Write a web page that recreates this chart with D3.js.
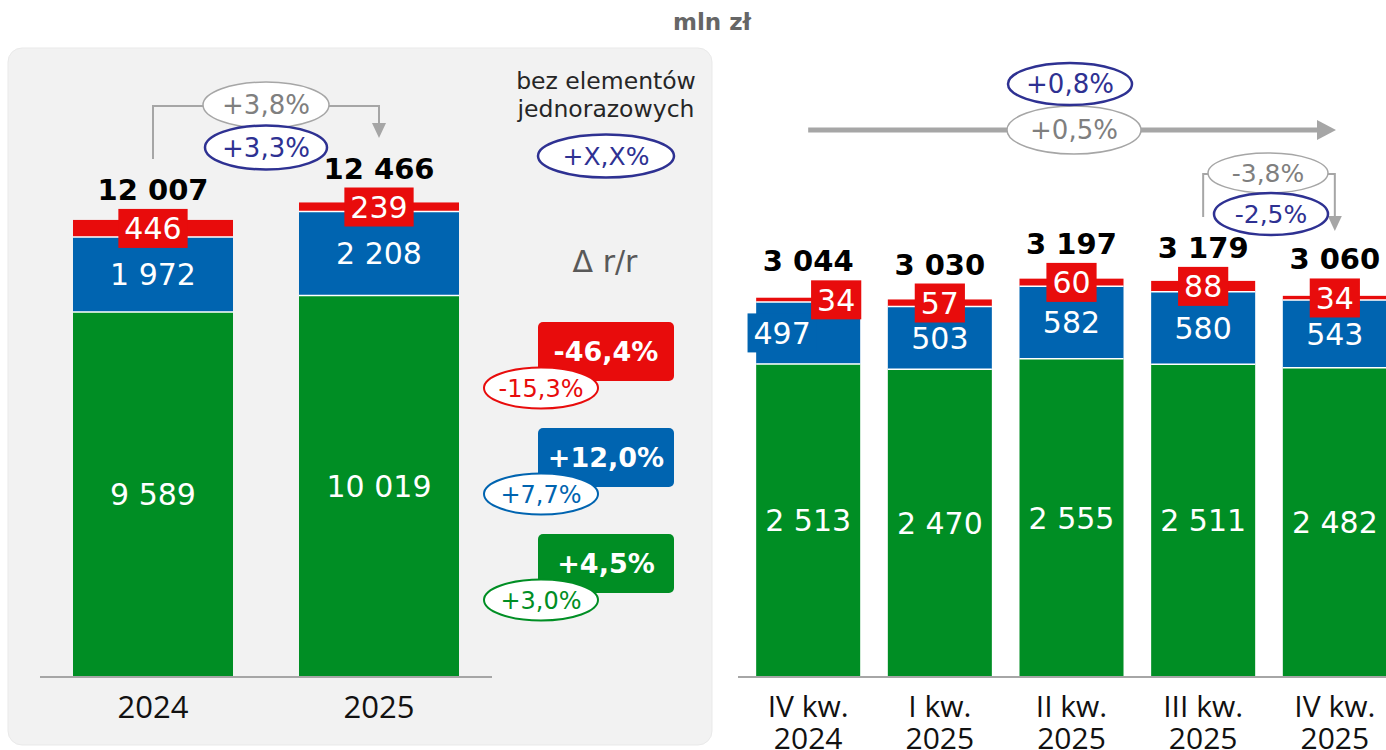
<!DOCTYPE html>
<html>
<head>
<meta charset="utf-8">
<script src="https://cdn.jsdelivr.net/npm/d3@7"></script>
<style>
  html, body { margin: 0; padding: 0; background: #ffffff; }
  svg { display: block; }
</style>
</head>
<body>
<svg id="chart" width="1386" height="750"></svg>
<script>
// ---- annual data (mln zł) ----
const years = ["2024", "2025"];
const yearCore = [9589, 10019];      // green
const yearMid = [1972, 2208];        // blue
const yearOther = [446, 239];        // red
const yearTotals = [12007, 12466];

// ---- quarterly data (mln zł) ----
const quarters = ["IV kw. 2024", "I kw. 2025", "II kw. 2025", "III kw. 2025", "IV kw. 2025"];
const quarterCore = [2513, 2470, 2555, 2511, 2482];
const quarterMid = [497, 503, 582, 580, 543];
const quarterOther = [34, 57, 60, 88, 34];
const quarterTotals = [3044, 3030, 3197, 3179, 3060];

// ---- y/y changes ----
const yearChange = "+3,8%";
const yearChangeAdj = "+3,3%";
const segmentChange = ["-46,4%", "+12,0%", "+4,5%"];      // red, blue, green
const segmentChangeAdj = ["-15,3%", "+7,7%", "+3,0%"];
const spanChange = "+0,5%";        // IV kw. 2024 -> IV kw. 2025
const spanChangeAdj = "+0,8%";
const lastQChange = "-3,8%";       // III kw. 2025 -> IV kw. 2025
const lastQChangeAdj = "-2,5%";
const adjLegend = "+X,X%";

const C = {
  red: "#e80c0c", blue: "#0064b0", green: "#008e24",
  navy: "#2e3192", grayLine: "#a6a6a6", grayText: "#7f7f7f", panel: "#f2f2f2"
};
const FONT = "'DejaVu Sans', sans-serif";
const AXISFONT = "'Open Sans', sans-serif";

const fmt = d3.formatLocale({ decimal: ",", thousands: " ", grouping: [3], currency: ["", " zł"] }).format(",d");

const svg = d3.select("#chart");

// panel behind the annual bars
svg.append("rect").attr("x", 8).attr("y", 48).attr("width", 704).attr("height", 697)
  .attr("rx", 14).attr("fill", C.panel).attr("stroke", "#e9e9e9");

svg.append("text").attr("x", 712).attr("y", 30).attr("text-anchor", "middle")
  .attr("font-family", FONT).attr("font-weight", "bold").attr("font-size", 23)
  .attr("fill", "#666666").text("mln zł");

// ---- scales ----
const xL = d3.scaleBand().domain(years).range([40, 492]).paddingInner(0.292).paddingOuter(0.146);
const yL = d3.scaleLinear().domain([0, 15000]).range([677, 106]);
const xR = d3.scaleBand().domain(quarters).range([743, 1400]).paddingInner(0.21).paddingOuter(0.1);
const yR = d3.scaleLinear().domain([0, 4000]).range([677, 178.6]);

function stackRows(cats, g, b, r) {
  return cats.map((c, i) => ({ cat: c, core: g[i], mid: b[i], other: r[i] }));
}
const stackGen = d3.stack().keys(["core", "mid", "other"]);
const keyColor = { core: C.green, mid: C.blue, other: C.red };

function drawBars(rows, totals, x, y, labelShift) {
  const series = stackGen(rows);
  const g = svg.append("g");
  series.forEach(s => {
    g.selectAll(null).data(s).join("rect")
      .attr("x", d => x(d.data.cat))
      .attr("width", x.bandwidth())
      .attr("y", d => y(d[1]))
      .attr("height", d => y(d[0]) - y(d[1]))
      .attr("fill", keyColor[s.key]);
  });
  // thin white joins between segments
  series.slice(0, 2).forEach(s => {
    g.selectAll(null).data(s).join("line")
      .attr("x1", d => x(d.data.cat)).attr("x2", d => x(d.data.cat) + x.bandwidth())
      .attr("y1", d => y(d[1])).attr("y2", d => y(d[1]))
      .attr("stroke", "#ffffff").attr("stroke-width", 1.5);
  });

  // segment labels
  series.forEach(s => {
    s.forEach((d, i) => {
      const cx = x(d.data.cat) + x.bandwidth() / 2 + (labelShift[s.key] ? labelShift[s.key][i] || 0 : 0);
      const cy = (y(d[0]) + y(d[1])) / 2;
      const txt = g.append("text").attr("x", cx).attr("y", cy).attr("dy", "0.36em")
        .attr("text-anchor", "middle").attr("font-family", FONT).attr("font-size", 30)
        .attr("fill", "#ffffff").text(fmt(d[1] - d[0]));
      const boxed = s.key === "other" || (labelShift[s.key] && labelShift[s.key][i]);
      if (boxed) {
        const w = txt.node().getComputedTextLength() + 12;
        g.insert("rect", () => txt.node()).attr("x", cx - w / 2).attr("y", cy - 19.5)
          .attr("width", w).attr("height", 39).attr("fill", keyColor[s.key]);
      }
      if (s.key === "other") {
        g.append("text").attr("x", x(d.data.cat) + x.bandwidth() / 2).attr("y", cy - 28.5)
          .attr("text-anchor", "middle").attr("font-family", FONT).attr("font-weight", "bold")
          .attr("font-size", 29).attr("fill", "#000000").text(fmt(totals[i]));
      }
    });
  });
}

drawBars(stackRows(years, yearCore, yearMid, yearOther), yearTotals, xL, yL, {});
drawBars(stackRows(quarters, quarterCore, quarterMid, quarterOther), quarterTotals, xR, yR,
  { other: [28], mid: [-26] });

// baselines
svg.append("line").attr("x1", 40).attr("x2", 492).attr("y1", 677).attr("y2", 677)
  .attr("stroke", C.grayLine).attr("stroke-width", 2);
svg.append("line").attr("x1", 738).attr("x2", 1386).attr("y1", 677).attr("y2", 677)
  .attr("stroke", C.grayLine).attr("stroke-width", 2);

// category labels
svg.append("g").selectAll("text").data(years).join("text")
  .attr("x", d => xL(d) + xL.bandwidth() / 2).attr("y", 718)
  .attr("text-anchor", "middle").attr("font-family", AXISFONT).attr("font-size", 31)
  .attr("fill", "#111111").text(d => d);
const qLab = svg.append("g").selectAll("text").data(quarters).join("text")
  .attr("x", d => xR(d) + xR.bandwidth() / 2).attr("y", 717)
  .attr("text-anchor", "middle").attr("font-family", AXISFONT).attr("font-size", 30)
  .attr("fill", "#111111");
qLab.each(function (d) {
  const parts = d.split(" ");
  const t = d3.select(this);
  const cx = t.attr("x");
  t.append("tspan").attr("x", cx).text(parts[0] + " " + parts[1]);
  t.append("tspan").attr("x", cx).attr("dy", 32).text(parts[2]);
});

// ---- change badges ----
function badge(cx, cy, rx, ry, stroke, sw, color, label, size) {
  svg.append("ellipse").attr("cx", cx).attr("cy", cy).attr("rx", rx).attr("ry", ry)
    .attr("fill", "#ffffff").attr("stroke", stroke).attr("stroke-width", sw);
  svg.append("text").attr("x", cx).attr("y", cy).attr("dy", "0.36em").attr("text-anchor", "middle")
    .attr("font-family", FONT).attr("font-size", size || 25).attr("fill", color).text(label);
}
function arrowHead(x, yTip, w, h) {
  svg.append("path").attr("d", `M${x - w / 2},${yTip - h}L${x + w / 2},${yTip - h}L${x},${yTip}Z`)
    .attr("fill", C.grayLine);
}

// annual change bracket
const lx1 = xL("2024") + xL.bandwidth() / 2, lx2 = xL("2025") + xL.bandwidth() / 2;
svg.append("path").attr("d", `M${lx1},159V106H${lx2}V124`).attr("fill", "none")
  .attr("stroke", C.grayLine).attr("stroke-width", 2);
arrowHead(lx2, 138, 14, 15);
badge(266, 105, 63, 23, "#a6a6a6", 1.5, C.grayText, yearChange, 26);
badge(266, 147.5, 61, 22, C.navy, 2.5, C.navy, yearChangeAdj, 26);

// legend for adjusted figures
svg.append("text").attr("x", 606).attr("y", 89).attr("text-anchor", "middle")
  .attr("font-family", FONT).attr("font-size", 23.5).attr("fill", "#262626").text("bez elementów");
svg.append("text").attr("x", 606).attr("y", 117).attr("text-anchor", "middle")
  .attr("font-family", FONT).attr("font-size", 23.5).attr("fill", "#262626").text("jednorazowych");
badge(606, 156, 68, 21.5, C.navy, 2.5, C.navy, adjLegend, 25);

svg.append("text").attr("x", 605).attr("y", 272).attr("text-anchor", "middle")
  .attr("font-family", FONT).attr("font-size", 30).attr("fill", "#595959").text("Δ r/r");

// segment change boxes (red, blue, green)
const segColors = [C.red, C.blue, C.green];
const boxTops = [322, 428, 534];
segmentChange.forEach((v, i) => {
  svg.append("rect").attr("x", 538).attr("y", boxTops[i]).attr("width", 136).attr("height", 59)
    .attr("rx", 5).attr("fill", segColors[i]);
  svg.append("text").attr("x", 606).attr("y", boxTops[i] + 29.5).attr("dy", "0.36em")
    .attr("text-anchor", "middle").attr("font-family", FONT).attr("font-weight", "bold")
    .attr("font-size", 27).attr("fill", "#ffffff").text(v);
  badge(541, boxTops[i] + 66, 57, 20.5, segColors[i], 2, segColors[i], segmentChangeAdj[i], 24);
});

// long-span arrow across the quarters
const q1 = xR(quarters[0]) + xR.bandwidth() / 2;
const q4 = xR(quarters[3]) + xR.bandwidth() / 2;
const q5 = xR(quarters[4]) + xR.bandwidth() / 2;
svg.append("line").attr("x1", q1).attr("x2", 1320).attr("y1", 130).attr("y2", 130)
  .attr("stroke", C.grayLine).attr("stroke-width", 5);
svg.append("path").attr("d", "M1317,120L1336,130L1317,140Z").attr("fill", C.grayLine);
badge(1074, 130, 67, 24, "#a6a6a6", 1.5, C.grayText, spanChange, 26);
badge(1070, 84, 62, 21, C.navy, 2.5, C.navy, spanChangeAdj, 26);

// last-quarter change bracket
svg.append("path").attr("d", `M${q4},217V174H${q5}V216`).attr("fill", "none")
  .attr("stroke", C.grayLine).attr("stroke-width", 2);
arrowHead(q5, 231, 14, 15);
badge(1268, 173, 60, 20, "#a6a6a6", 1.5, C.grayText, lastQChange, 25);
badge(1271, 214, 57, 21, C.navy, 2.5, C.navy, lastQChangeAdj, 25);
</script>
</body>
</html>
